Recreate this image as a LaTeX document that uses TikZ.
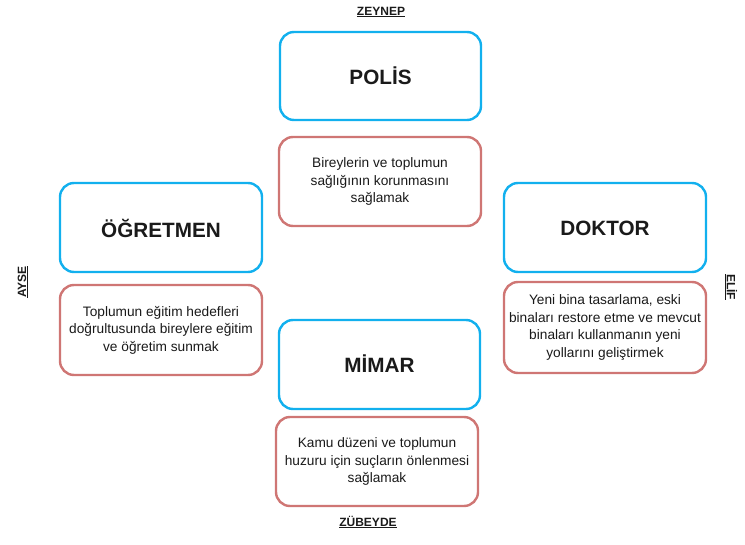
\documentclass[tikz,border=0pt]{standalone}
\usepackage{fontspec}
\setmainfont{Liberation Sans}
\definecolor{boxblue}{HTML}{12B0EE}
\definecolor{boxred}{HTML}{CF7674}
\definecolor{txt}{HTML}{1A1A1A}
\begin{document}
\begin{tikzpicture}[x=1bp,y=-1bp,
  rolebox/.style={draw=boxblue,line width=2.4bp,rounded corners=14bp,fill=white},
  descbox/.style={draw=boxred,line width=2.4bp,rounded corners=14bp,fill=white},
  roletext/.style={font=\fontsize{20.7bp}{25bp}\selectfont\bfseries,text=txt},
  desctext/.style={font=\fontsize{13.7bp}{17.5bp}\selectfont,text=txt,align=center},
  namelabel/.style={font=\fontsize{12bp}{14bp}\selectfont\bfseries,text=txt}]
\useasboundingbox (0,0) rectangle (745,545);
% role boxes
\draw[rolebox] (280,32) rectangle (481,120);
\node[roletext] (polis) at (380.5,76) {POLİS};
\draw[rolebox] (60,183) rectangle (262,272);
\node[roletext] (ogretmen) at (161,228) {ÖĞRETMEN};
\draw[rolebox] (504,183) rectangle (706,272);
\node[roletext] (doktor) at (605,228) {DOKTOR};
\draw[rolebox] (279,320) rectangle (480,409);
\node[roletext] (mimar) at (379.5,364) {MİMAR};
% description boxes
\draw[descbox] (279,137) rectangle (481,226);
\node[desctext] (dpolis) at (380,181.5) {Bireylerin ve toplumun\\sağlığının korunmasını\\sağlamak};
\draw[descbox] (60,285) rectangle (262,375);
\node[desctext] (dogretmen) at (161,330) {Toplumun eğitim hedefleri\\doğrultusunda bireylere eğitim\\ve öğretim sunmak};
\draw[descbox] (504,282) rectangle (706,373);
\node[desctext] (ddoktor) at (605,327.5) {Yeni bina tasarlama, eski\\binaları restore etme ve mevcut\\binaları kullanmanın yeni\\yollarını geliştirmek};
\draw[descbox] (276,417) rectangle (478,506);
\node[desctext] (dmimar) at (377,461.5) {Kamu düzeni ve toplumun\\huzuru için suçların önlenmesi\\sağlamak};
% names
\node[namelabel] (zeynep) at (381,12) {\underline{ZEYNEP}};
\node[namelabel] (zubeyde) at (368,522) {\underline{ZÜBEYDE}};
\node[namelabel,rotate=90] (ayse) at (23,282) {\underline{AYSE}};
\node[namelabel,rotate=-90] (elif) at (731,287) {\underline{ELİF}};
\end{tikzpicture}
\end{document}
